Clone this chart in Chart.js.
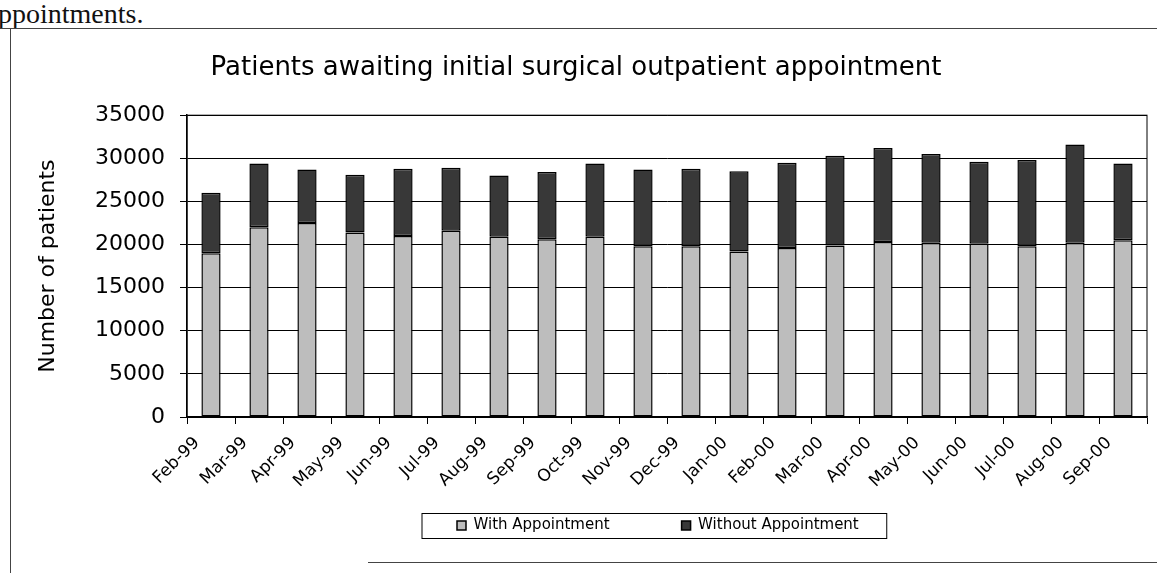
<!DOCTYPE html>
<html>
<head>
<meta charset="utf-8">
<script src="https://cdn.jsdelivr.net/npm/chart.js@4/dist/chart.umd.min.js"></script>
<style>
  body { margin: 0; background: #fff; }
  #page { position: relative; width: 1157px; height: 573px; overflow: hidden; }
  #chart { position: absolute; left: 0; top: 0; }
  .scanText { position: absolute; left: -2px; top: 0px; font: 28px/27px 'Liberation Serif', serif; color: #111; }
  .rule { position: absolute; background: #444; }
</style>
</head>
<body>
<div id="page">
  <div class="scanText">ppointments.</div>
  <div class="rule" style="left:0;top:28px;width:1157px;height:1px"></div>
  <div class="rule" style="left:10px;top:28px;width:1px;height:545px"></div>
  <div class="rule" style="left:368px;top:562px;width:789px;height:1px"></div>
  <canvas id="chart" width="1157" height="573"></canvas>
</div>
<script>
const months = ['Feb-99', 'Mar-99', 'Apr-99', 'May-99', 'Jun-99', 'Jul-99', 'Aug-99', 'Sep-99', 'Oct-99', 'Nov-99',
  'Dec-99', 'Jan-00', 'Feb-00', 'Mar-00', 'Apr-00', 'May-00', 'Jun-00', 'Jul-00', 'Aug-00', 'Sep-00']
const withAppointment = [19000, 22000, 22500, 21400, 21000, 21600, 20900, 20600, 20900, 19800,
  19800, 19200, 19600, 19900, 20300, 20200, 20100, 19800, 20200, 20500]
const withoutAppointment = [7000, 7400, 6200, 6700, 7800, 7300, 7100, 7800, 8500, 8900,
  9000, 9300, 9900, 10400, 10900, 10300, 9500, 10000, 11400, 8900]
const yTicks = [0, 5000, 10000, 15000, 20000, 25000, 30000, 35000]

const font = 'DejaVu Sans'

// legend sits in its own framed box under the axis labels, plot area gets a full border
const frames = {
  id: 'frames',
  afterLayout (chart) {
    const legend = chart.legend
    const w = legend.width
    const h = legend.height
    legend.left = 385
    legend.right = 385 + w
    legend.top = 446
    legend.bottom = 446 + h
    // title is a little left of the plot centre in the original
    chart.titleBlock.left -= 15
    chart.titleBlock.right -= 15
  },
  afterDraw (chart) {
    const { ctx, chartArea } = chart
    ctx.save()
    ctx.strokeStyle = '#000'
    ctx.lineWidth = 1
    ctx.strokeRect(chartArea.left, chartArea.top, chartArea.width, chartArea.height)
    const boxes = chart.legend.legendHitBoxes
    const first = boxes[0]
    const last = boxes[boxes.length - 1]
    const midY = first.top + first.height / 2
    ctx.strokeRect(first.left - 35, midY - 12, last.left + last.width - first.left + 63, 25)
    ctx.restore()
  }
}

function setChart () {
  const ctx = document.getElementById('chart')
  Chart.defaults.color = '#000'
  Chart.defaults.font.family = font

  const data = {
    labels: months,
    datasets: [{
      label: 'With Appointment',
      data: withAppointment,
      backgroundColor: '#bdbdbd',
      borderColor: '#000',
      borderWidth: 1.5,
      borderSkipped: false
    }, {
      label: 'Without Appointment',
      data: withoutAppointment,
      backgroundColor: '#383838',
      borderColor: '#000',
      borderWidth: 1.5,
      borderSkipped: false
    }]
  }

  const options = {
    responsive: false,
    animation: false,
    devicePixelRatio: 1,
    categoryPercentage: 1,
    barPercentage: 0.4,
    layout: { padding: { top: 53, left: 35, right: 10, bottom: -31 } },
    plugins: {
      title: {
        display: true,
        text: 'Patients awaiting initial surgical outpatient appointment',
        font: { size: 26, weight: 'normal' },
        padding: { top: 0, bottom: 31 }
      },
      legend: {
        position: 'bottom',
        align: 'start',
        labels: { boxWidth: 9, boxHeight: 9, padding: 72, font: { size: 15 } }
      },
      tooltip: { enabled: false }
    },
    scales: {
      x: {
        stacked: true,
        afterFit: (scale) => { scale.height = 90 },
        grid: { drawOnChartArea: false, tickLength: 7, color: '#000' },
        border: { color: '#000', width: 1.5 },
        ticks: { minRotation: 45, maxRotation: 45, labelOffset: -14, padding: 9, font: { size: 17 } }
      },
      y: {
        stacked: true,
        min: 0,
        max: 35000,
        afterFit: (scale) => { scale.width = 152 },
        afterBuildTicks: (scale) => { scale.ticks = yTicks.map(v => ({ value: v })) },
        grid: { color: '#000', tickLength: 7 },
        border: { color: '#000', width: 1.5 },
        ticks: { padding: 15, font: { size: 22 }, callback: (v) => String(v) },
        title: {
          display: true,
          text: 'Number of patients',
          font: { size: 22 },
          padding: 0
        }
      }
    }
  }

  new Chart(ctx, {
    type: 'bar',
    data: data,
    options: options,
    plugins: [frames]
  })
}

setChart()
</script>
</body>
</html>
